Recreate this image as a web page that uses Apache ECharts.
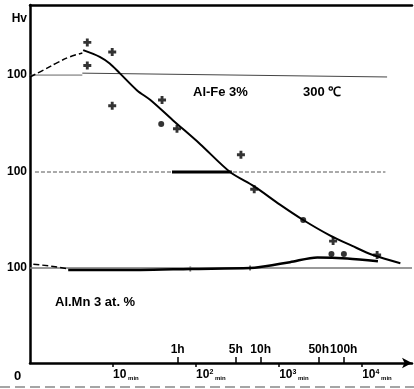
<!DOCTYPE html>
<html>
<head>
<meta charset="utf-8">
<script src="https://cdn.jsdelivr.net/npm/echarts@6/dist/echarts.min.js"></script>
<style>
  html, body { margin: 0; padding: 0; background: #fff; }
  #chart { width: 414px; height: 389px; }
</style>
</head>
<body>
<div id="chart"></div>
<script>
// x = log10(time in minutes), y = hardness (curves shifted by 100 each)
var minuteTicks = [1, 2, 3, 4];
var minuteSup = ['', '2', '3', '4'];
var hourValues = [1, 5, 10, 50, 100];
var hourTicks = hourValues.map(function (h) { return Math.log10(h * 60); });
var refTicks = [99, 199, 300];

var feDashed = [[0.0, 298], [0.18, 306], [0.33, 313], [0.48, 319], [0.63, 323]];
var feCurve = [[0.64, 326], [0.84, 319], [0.96, 312], [1.08, 302], [1.29, 284], [1.45, 274],
  [1.72, 253], [2.05, 228], [2.41, 199], [2.70, 184], [3.01, 165], [3.29, 149],
  [3.61, 133], [3.88, 122], [4.13, 112.5], [4.46, 104]];

var mnDashed = [[0.04, 103], [0.25, 101], [0.46, 98]];
var mnCurve = [[0.46, 97], [1.33, 97], [1.93, 98], [2.65, 99], [2.77, 100], [3.13, 105],
  [3.46, 110], [3.82, 109], [4.19, 106]];

var refTopA = [[0, 300], [0.63, 300]];
var refTopB = [[0.63, 302], [4.30, 298]];
var refMid = [[0.06, 199], [4.28, 199]];
var refMidThick = [[1.71, 199], [2.43, 199]];
var refLow = [[0, 99], [4.6, 99]];

var plusPts = [[0.69, 334], [0.99, 324], [0.69, 310], [0.99, 268], [1.59, 274], [1.77, 244],
  [2.54, 217], [2.70, 181], [3.65, 127], [4.18, 112.5]];
var plusSmall = [[1.93, 98], [2.65, 99]];
var dotPts = [[1.58, 249], [3.29, 149], [3.63, 113.5], [3.78, 113.5]];

var chart = echarts.init(document.getElementById('chart'), null, { renderer: 'canvas' });

var FONT = 'Liberation Sans';
var PLUS = 'path://M3.2,0H6.8V3.2H10V6.8H6.8V10H3.2V6.8H0V3.2H3.2Z';

function line(data, width, color, type, smooth) {
  return {
    type: 'line', data: data, symbol: 'none', smooth: smooth || false,
    lineStyle: { color: color, width: width, type: type || 'solid' },
    silent: true, animation: false
  };
}

var option = {
  backgroundColor: '#fff',
  animation: false,
  grid: { left: 30, right: 2, top: 5, bottom: 26 },
  xAxis: [
    {
      type: 'value', min: 0, max: 4.6, position: 'bottom',
      splitLine: { show: false },
      axisLine: { lineStyle: { color: '#000', width: 2.5 }, symbol: ['none', 'arrow'], symbolSize: [8, 10] },
      axisTick: { customValues: minuteTicks, length: 4, lineStyle: { color: '#000', width: 1.5 } },
      axisLabel: {
        customValues: minuteTicks, margin: 6, align: 'left',
        formatter: function (v) {
          var i = minuteTicks.indexOf(Math.round(v));
          return '{n|10}{s|' + minuteSup[i] + '}{m| min}';
        },
        rich: {
          n: { fontFamily: FONT, fontWeight: 'bold', fontSize: 12, color: '#000' },
          s: { fontFamily: FONT, fontWeight: 'bold', fontSize: 7, color: '#000', verticalAlign: 'top' },
          m: { fontFamily: FONT, fontWeight: 'bold', fontSize: 6, color: '#000', verticalAlign: 'bottom' }
        }
      }
    },
    {
      type: 'value', min: 0, max: 4.6, position: 'bottom',
      splitLine: { show: false },
      axisLine: { show: false },
      axisTick: { customValues: hourTicks, inside: true, length: 6, lineStyle: { color: '#000', width: 1.5 } },
      axisLabel: {
        customValues: hourTicks, inside: true, margin: 7,
        fontFamily: FONT, fontWeight: 'bold', fontSize: 12, color: '#000',
        formatter: function (v) {
          var best = 0;
          hourTicks.forEach(function (t, i) { if (Math.abs(t - v) < Math.abs(hourTicks[best] - v)) best = i; });
          return hourValues[best] + 'h';
        }
      }
    },
    {
      type: 'value', min: 0, max: 4.6, position: 'top',
      splitLine: { show: false },
      axisLine: { lineStyle: { color: '#000', width: 2.5 } },
      axisTick: { show: false }, axisLabel: { show: false }
    }
  ],
  yAxis: {
    type: 'value', min: 0, max: 373,
    splitLine: { show: false },
    axisLine: { show: true, lineStyle: { color: '#000', width: 2.5 } },
    axisTick: { show: false },
    axisLabel: {
      customValues: refTicks.concat([359]), margin: 3,
      fontFamily: FONT, fontWeight: 'bold', fontSize: 12, color: '#000',
      formatter: function (v) { return v > 350 ? 'Hv' : '100'; }
    }
  },
  series: [
    line(refTopA, 1, '#666'),
    line(refTopB, 1, '#444'),
    line(refMid, 1, '#555', 'dashed'),
    line(refMidThick, 3, '#000'),
    line(refLow, 1.5, '#777'),
    line(feDashed, 1.5, '#000', 'dashed', 0.4),
    line(feCurve, 2, '#000', 'solid', 0.3),
    line(mnDashed, 1.5, '#000', 'dashed'),
    line(mnCurve, 2.5, '#000', 'solid', 0.3),
    {
      type: 'scatter', data: plusPts, symbol: PLUS, symbolSize: 8,
      itemStyle: { color: '#000' }, silent: true
    },
    {
      type: 'scatter', data: plusSmall, symbol: PLUS, symbolSize: 5,
      itemStyle: { color: '#444' }, silent: true
    },
    {
      type: 'scatter', data: dotPts, symbol: 'circle', symbolSize: 6,
      itemStyle: { color: '#000' }, silent: true
    }
  ],
  graphic: [
    { type: 'text', left: 193, top: 86, style: { text: 'Al-Fe 3%', font: 'bold 13px "Liberation Sans"', fill: '#000' } },
    { type: 'text', left: 303, top: 86, style: { text: '300 \u2103', font: 'bold 13px "Liberation Sans"', fill: '#000' } },
    { type: 'text', left: 55, top: 296, style: { text: 'Al.Mn 3 at. %', font: 'bold 13px "Liberation Sans"', fill: '#000' } },
    { type: 'text', left: 14, top: 370, style: { text: '0', font: 'bold 13px "Liberation Sans"', fill: '#000' } },
    { type: 'line', shape: { x1: 0, y1: 387, x2: 414, y2: 387 }, style: { stroke: '#888', lineWidth: 1.5, lineDash: [10, 5] } }
  ]
};

chart.setOption(option);
window.addEventListener('resize', chart.resize);
</script>
</body>
</html>
